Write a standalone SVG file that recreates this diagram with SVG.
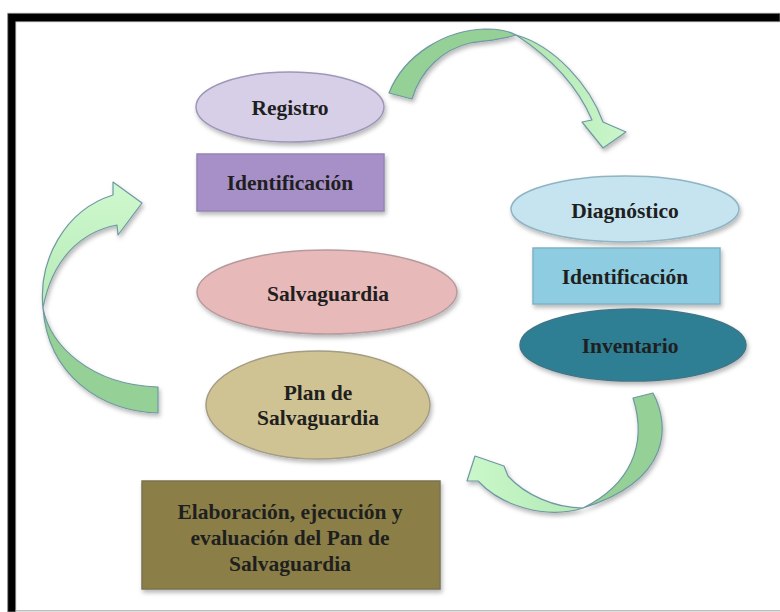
<svg xmlns="http://www.w3.org/2000/svg" width="780" height="612" viewBox="0 0 780 612">
<defs>
<filter id="sh" x="-20%" y="-20%" width="140%" height="150%">
<feDropShadow dx="1.5" dy="3" stdDeviation="2" flood-color="#000" flood-opacity="0.28"/>
</filter>
<linearGradient id="gTop" x1="390" y1="0" x2="620" y2="0" gradientUnits="userSpaceOnUse">
<stop offset="0" stop-color="#8fcd90"/><stop offset="1" stop-color="#c9f6c9"/>
</linearGradient>
<linearGradient id="gLeft" x1="0" y1="190" x2="0" y2="310" gradientUnits="userSpaceOnUse">
<stop offset="0" stop-color="#cdf8cd"/><stop offset="1" stop-color="#b6e9b6"/>
</linearGradient>
<linearGradient id="gBR" x1="470" y1="0" x2="590" y2="0" gradientUnits="userSpaceOnUse">
<stop offset="0" stop-color="#c9f7c9"/><stop offset="1" stop-color="#b3e8b4"/>
</linearGradient>
</defs>
<style>
.t{font-family:"Liberation Serif","Times New Roman",serif;font-weight:bold;font-size:21.5px;fill:#1f1f1f;text-anchor:middle}
.ar{stroke:#6f98a3;stroke-width:1.2;stroke-linejoin:round;filter:url(#sh)}
.dk{fill:#95d096}
.nd{stroke-width:1.5;filter:url(#sh)}
</style>
<rect width="780" height="612" fill="#ffffff"/>
<g id="frame">
<path d="M7.7,13.3 H780 V21.7 H15.7 V612 H7.7 Z" fill="#000" stroke="#8a8a8a" stroke-width="0.8"/>
<line x1="15.7" y1="610.7" x2="780" y2="610.7" stroke="#bdbdbd" stroke-width="1.5"/>
</g>
<g id="connectors">
<g id="arrow-top">
<path class="ar dk" d="M389,93 C404,55 445,30 485,29 C500,29 509,31 516,35 C500,40 482,41 470,43 C444,49 421,69 412,99 Z"/>
<path class="ar" fill="url(#gTop)" d="M516,35 C555,46 590,86 603,122 L626,132 L603,148 L582,122 L592,120 C580,92 556,61 516,35 Z"/>
</g>
<g id="arrow-left">
<path class="ar" fill="url(#gLeft)" d="M43,308 C38,260 65,210 113,195 L113,182 L142,203 L118,235 L117,225 C80,232 52,260 43,308 Z"/>
<path class="ar dk" d="M43,308 C50,345 90,385 158,387 L158,413 C100,411 48,375 43,308 Z"/>
</g>
<g id="arrow-bottom-right">
<path class="ar dk" d="M633,398 L653,393 C670,425 672,480 583,508 C630,485 648,445 633,398 Z"/>
<path class="ar" fill="url(#gBR)" d="M583,508 C555,508 525,495 508,476 L504,466 L475,456 L467,481 L478,481 C500,505 545,520 583,508 Z"/>
</g>
</g>
<g id="registro">
<ellipse class="nd" cx="290" cy="107" rx="94" ry="35" fill="#d7cfe7" stroke="#9e97b8"/>
<text class="t" x="290" y="115">Registro</text>
</g>
<g id="identificacion-1">
<rect class="nd" x="197" y="154" width="187" height="57" fill="#a690c7" stroke="#9584b5"/>
<text class="t" x="290" y="190">Identificación</text>
</g>
<g id="diagnostico">
<ellipse class="nd" cx="625" cy="209" rx="114" ry="33" fill="#c6e4ef" stroke="#8fb4c3"/>
<text class="t" x="625" y="218">Diagnóstico</text>
</g>
<g id="identificacion-2">
<rect class="nd" x="533" y="248" width="187" height="56" fill="#8ecde1" stroke="#7fb3c3"/>
<text class="t" x="625" y="284">Identificación</text>
</g>
<g id="inventario">
<ellipse class="nd" cx="633" cy="345" rx="113" ry="36" fill="#2f7e94" stroke="#3f7688"/>
<text class="t" x="630" y="353">Inventario</text>
</g>
<g id="salvaguardia">
<ellipse class="nd" cx="327" cy="292" rx="130" ry="42" fill="#e8b9b9" stroke="#b59a9e"/>
<text class="t" x="328" y="301">Salvaguardia</text>
</g>
<g id="plan-salvaguardia">
<ellipse class="nd" cx="318" cy="405" rx="112" ry="54" fill="#d0c393" stroke="#a49c84"/>
<text class="t" x="318" y="400">Plan de</text>
<text class="t" x="318" y="425">Salvaguardia</text>
</g>
<g id="elaboracion">
<rect class="nd" x="142" y="481" width="298" height="108" fill="#8b7f47" stroke="#7b7352"/>
<text class="t" x="290" y="519">Elaboración, ejecución y</text>
<text class="t" x="290" y="545">evaluación del Pan de</text>
<text class="t" x="290" y="571">Salvaguardia</text>
</g>
</svg>
